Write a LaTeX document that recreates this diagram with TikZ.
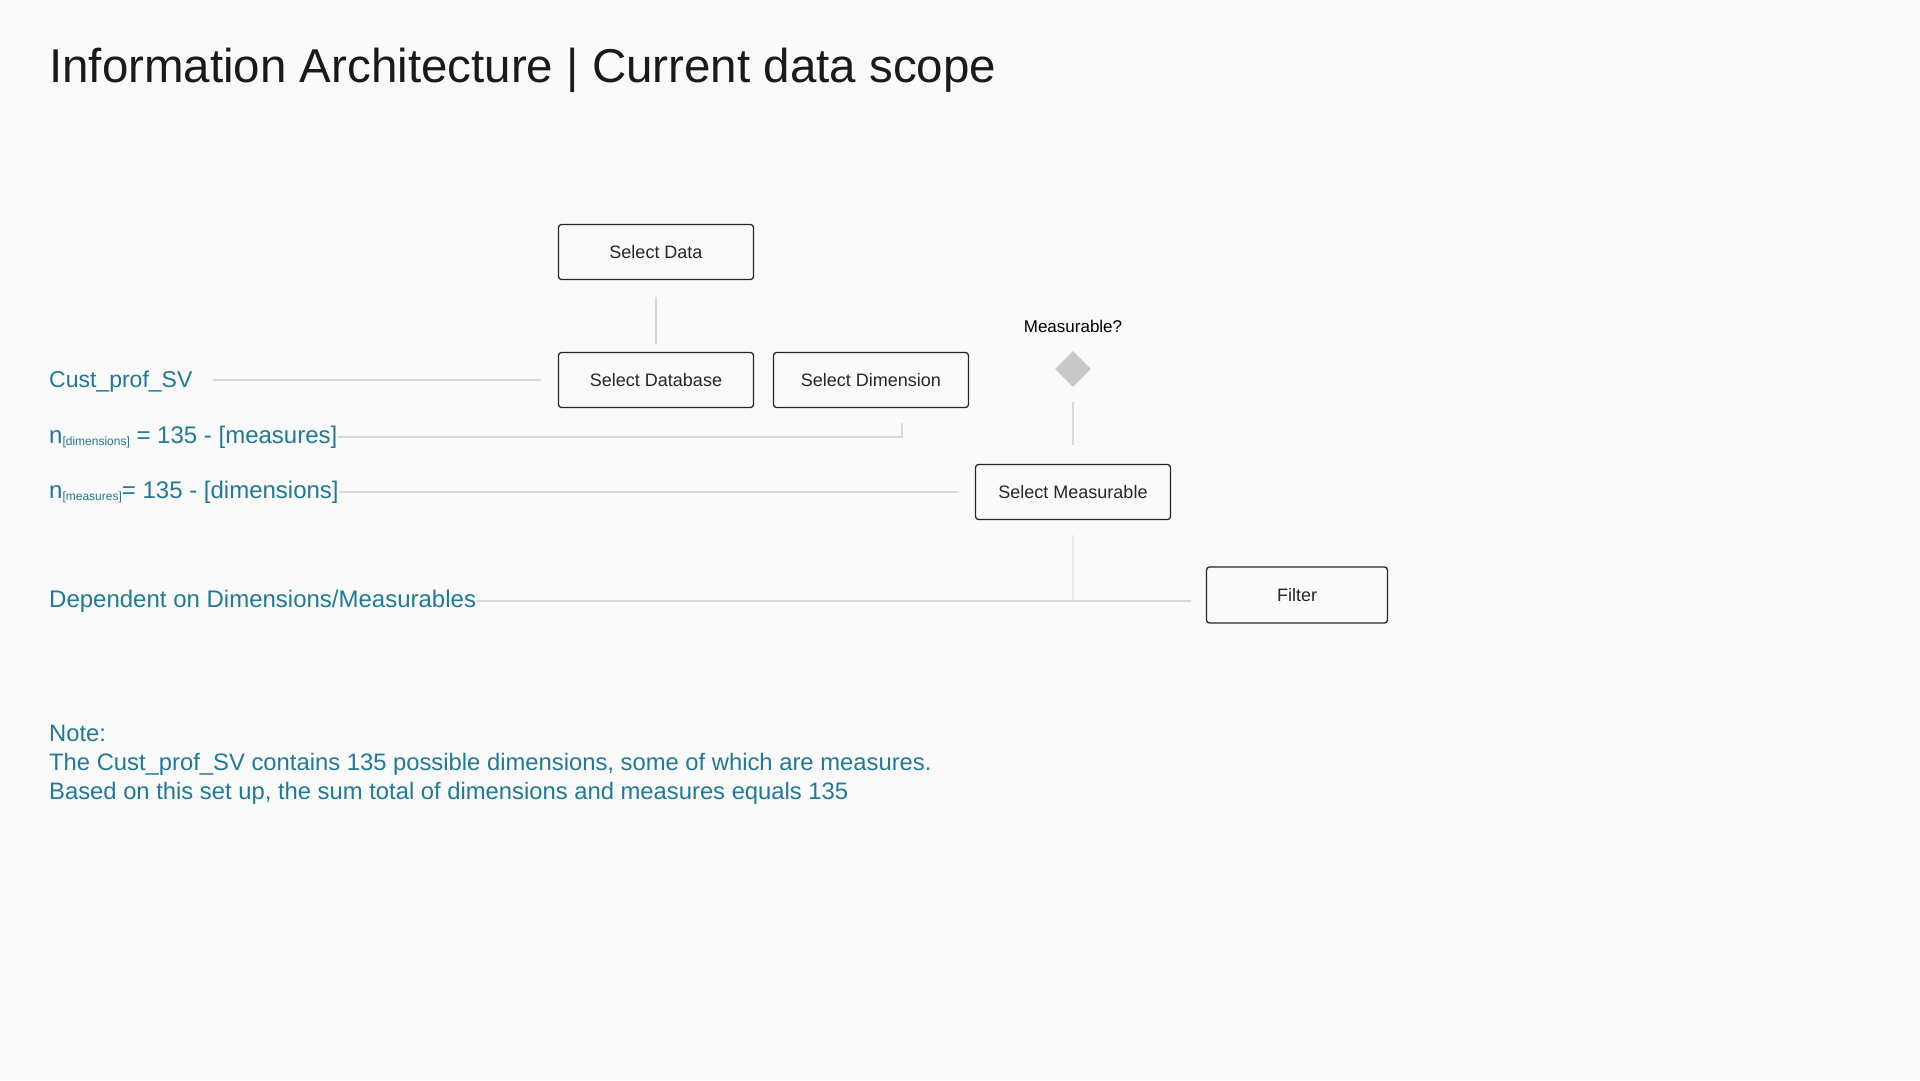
\documentclass[tikz,border=0pt]{standalone}
\usepackage{fontspec}
\setmainfont{Liberation Sans}
\usetikzlibrary{shapes.geometric}
\definecolor{bgpage}{HTML}{FAFAFA}
\definecolor{titleink}{HTML}{1A1A1A}
\definecolor{inkteal}{HTML}{1F7A9A}
\definecolor{inkdark}{HTML}{262626}
\definecolor{linkgray}{HTML}{D9D9D9}
\definecolor{linkpale}{HTML}{ECECEC}
\definecolor{diagray}{HTML}{C8C8C8}
\newcommand{\fsz}[1]{\fontsize{#1}{#1}\selectfont}
\begin{document}
\begin{tikzpicture}[x=1pt, y=-1pt, every node/.style={inner sep=0pt}]
  \tikzstyle{box}=[draw=inkdark,line width=1.3pt,rounded corners=3pt,minimum width=195pt,minimum height=55pt,font=\fsz{18},text=inkdark]
  \tikzstyle{tag}=[anchor=base west,text=inkteal,font=\fsz{24}]
  \tikzstyle{link}=[draw=linkgray,line width=2pt]
  \fill[bgpage] (0,0) rectangle (1920,1080);
  \useasboundingbox (0,0) rectangle (1920,1080);
  \node[anchor=base west,text=titleink,font=\fsz{47.5}] (title) at (49,82) {Information Architecture | Current data scope};
  \node[box] (data) at (656,252) {Select Data};
  \node[box] (db) at (656,380) {Select Database};
  \node[box] (dim) at (871,380) {Select Dimension};
  \node[diamond,fill=diagray,minimum size=36pt] (dia) at (1073,369) {};
  \node[anchor=base,font=\fsz{17},text=black] (ask) at (1073,332) {Measurable?};
  \node[box] (meas) at (1073,492) {Select Measurable};
  \node[box,minimum width=181pt,minimum height=56pt] (filter) at (1297,595) {Filter};
  \node[tag,font=\fsz{23}] (cust) at (49,387) {Cust\_prof\_SV};
  \node[tag] (ndim) at (49,443) {n\raisebox{-2pt}{\fsz{12}[dimensions]} = 135 - [measures]};
  \node[tag] (nmeas) at (49,498) {n\raisebox{-2pt}{\fsz{12}[measures]}= 135 - [dimensions]};
  \node[tag] (dep) at (49,607) {Dependent on Dimensions/Measurables};
  \node[anchor=north west,align=left,text=inkteal,font=\fontsize{23.8}{29}\selectfont] (note) at (49,725) {Note:\\The Cust\_prof\_SV contains 135 possible dimensions, some of which are measures.\\Based on this set up, the sum total of dimensions and measures equals 135};
  \draw[link,shorten <=17pt,shorten >=8pt] (data) -- (db);
  \draw[link,shorten <=20pt,shorten >=17pt] (cust.east |- db.west) -- (db.west);
  \draw[link] (ndim.east) -| ([xshift=31pt,yshift=-15pt]dim.south);
  \draw[link,shorten >=17pt] (nmeas.east) -- (nmeas.east -| meas.west);
  \draw[link,shorten <=15pt,shorten >=19pt] (dia) -- (meas);
  \draw[link,draw=linkpale,shorten <=15pt] (meas.south) -- (meas.south |- dep.east);
  \draw[link,shorten >=15pt] (dep.east) -- (dep.east -| filter.west);
\end{tikzpicture}
\end{document}
